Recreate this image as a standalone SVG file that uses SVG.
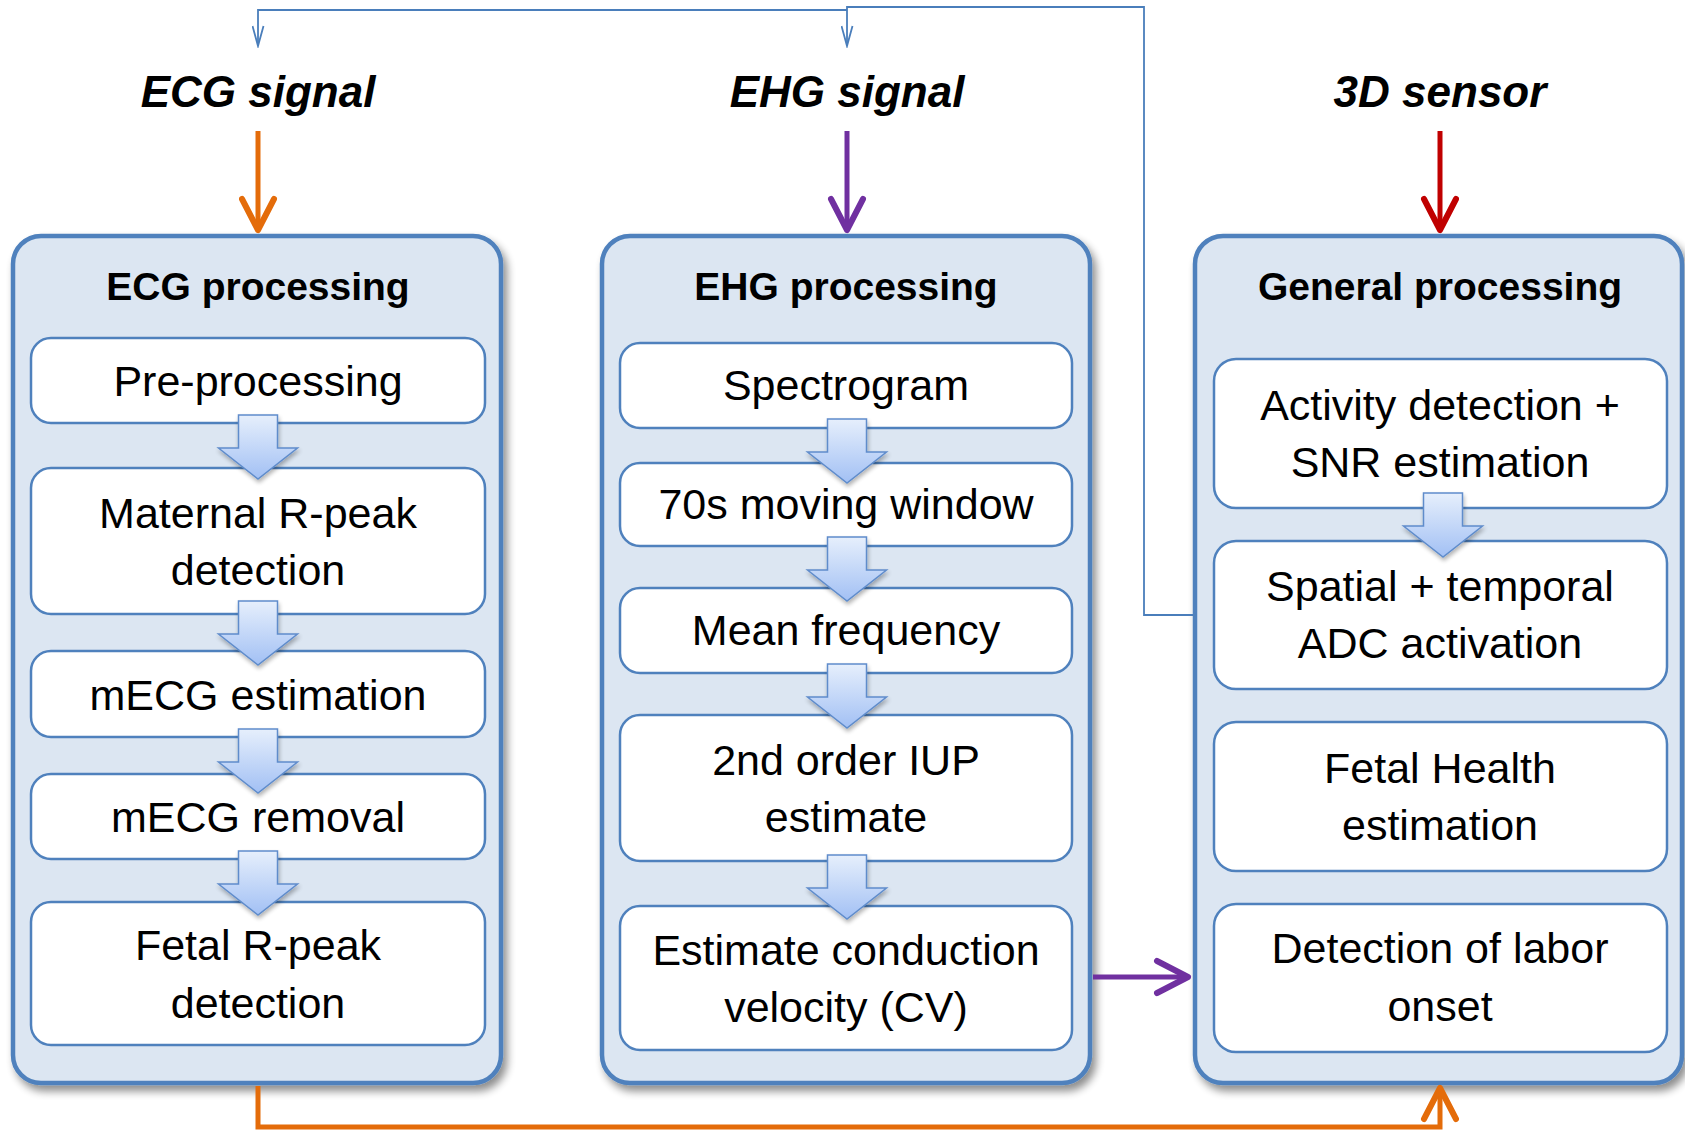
<svg xmlns="http://www.w3.org/2000/svg" width="1685" height="1133" viewBox="0 0 1685 1133">
<style>
.outer{fill:#DCE6F2;stroke:#4F81BD;stroke-width:4.5}
.inner{fill:#FFFFFF;stroke:#4F81BD;stroke-width:2.5}
.title{font-family:"Liberation Sans",Arial,sans-serif;font-weight:bold;font-size:39px;text-anchor:middle;fill:#000}
.sig{font-family:"Liberation Sans",Arial,sans-serif;font-weight:bold;font-style:italic;font-size:44px;text-anchor:middle;fill:#000}
.lbl{font-family:"Liberation Sans",Arial,sans-serif;font-size:43px;text-anchor:middle;fill:#000}
.blk{fill:url(#bg);stroke:#5F8CCB;stroke-width:1.5}
.fb{fill:none;stroke:#4A7EBB;stroke-width:1.8}
</style>
<defs>
<linearGradient id="bg" x1="0" y1="0" x2="0" y2="1">
<stop offset="0" stop-color="#E6EFFC"/>
<stop offset="1" stop-color="#A2C0F4"/>
</linearGradient>
<filter id="sh" x="-5%" y="-5%" width="115%" height="115%">
<feGaussianBlur in="SourceAlpha" stdDeviation="4"/>
<feOffset dx="4" dy="6"/>
<feComponentTransfer><feFuncA type="linear" slope="0.45"/></feComponentTransfer>
<feMerge><feMergeNode/><feMergeNode in="SourceGraphic"/></feMerge>
</filter>
<filter id="sh2" x="-20%" y="-20%" width="150%" height="150%">
<feGaussianBlur in="SourceAlpha" stdDeviation="2"/>
<feOffset dx="1" dy="3"/>
<feComponentTransfer><feFuncA type="linear" slope="0.3"/></feComponentTransfer>
<feMerge><feMergeNode/><feMergeNode in="SourceGraphic"/></feMerge>
</filter>
<path id="blkarrow" class="blk" d="M-19.5,0 H19.5 V33 H39.5 L0,64 L-39.5,33 H-19.5 Z"/>
<marker id="mOr" viewBox="0 0 40 40" refX="37" refY="20" markerWidth="40" markerHeight="40" markerUnits="userSpaceOnUse" orient="auto">
<path d="M5,4 L36,20 L5,36" fill="none" stroke="#E46C0A" stroke-width="6" stroke-linecap="round" stroke-linejoin="round"/>
</marker>
<marker id="mPu" viewBox="0 0 40 40" refX="37" refY="20" markerWidth="40" markerHeight="40" markerUnits="userSpaceOnUse" orient="auto">
<path d="M5,4 L36,20 L5,36" fill="none" stroke="#7030A0" stroke-width="6" stroke-linecap="round" stroke-linejoin="round"/>
</marker>
<marker id="mRe" viewBox="0 0 40 40" refX="37" refY="20" markerWidth="40" markerHeight="40" markerUnits="userSpaceOnUse" orient="auto">
<path d="M5,4 L36,20 L5,36" fill="none" stroke="#C00000" stroke-width="6" stroke-linecap="round" stroke-linejoin="round"/>
</marker>
<marker id="mBl" viewBox="-1 -1 23 13" refX="20" refY="5.5" markerWidth="23" markerHeight="13" markerUnits="userSpaceOnUse" orient="auto">
<path d="M0,0 L20,5.5 L0,11" fill="none" stroke="#4A7EBB" stroke-width="1.8"/>
</marker>
</defs>
<rect width="1685" height="1133" fill="#FFFFFF"/>

<g id="signal-labels">
<text class="sig" x="258" y="107">ECG signal</text>
<text class="sig" x="847" y="107">EHG signal</text>
<text class="sig" x="1440" y="107">3D sensor</text>
</g>

<g id="ecg-processing">
<rect class="outer" x="13" y="236" width="488" height="847" rx="28" filter="url(#sh)"/>
<text class="title" x="258" y="300">ECG processing</text>
</g>
<g id="ehg-processing">
<rect class="outer" x="602" y="236" width="488" height="847" rx="28" filter="url(#sh)"/>
<text class="title" x="846" y="300">EHG processing</text>
</g>
<g id="general-processing">
<rect class="outer" x="1195" y="236" width="487" height="847" rx="28" filter="url(#sh)"/>
<text class="title" x="1440" y="300">General processing</text>
</g>

<g id="pre-processing"><rect class="inner" x="31" y="338" width="454" height="85" rx="20"/><text class="lbl" x="258" y="396">Pre-processing</text></g>
<g id="maternal-rpeak"><rect class="inner" x="31" y="468" width="454" height="146" rx="20"/><text class="lbl" x="258" y="528">Maternal R-peak</text><text class="lbl" x="258" y="585">detection</text></g>
<g id="mecg-estimation"><rect class="inner" x="31" y="651" width="454" height="86" rx="20"/><text class="lbl" x="258" y="710">mECG estimation</text></g>
<g id="mecg-removal"><rect class="inner" x="31" y="774" width="454" height="85" rx="20"/><text class="lbl" x="258" y="832">mECG removal</text></g>
<g id="fetal-rpeak"><rect class="inner" x="31" y="902" width="454" height="143" rx="20"/><text class="lbl" x="258" y="960">Fetal R-peak</text><text class="lbl" x="258" y="1018">detection</text></g>

<g id="spectrogram"><rect class="inner" x="620" y="343" width="452" height="85" rx="20"/><text class="lbl" x="846" y="400">Spectrogram</text></g>
<g id="moving-window"><rect class="inner" x="620" y="463" width="452" height="83" rx="20"/><text class="lbl" x="846" y="519">70s moving window</text></g>
<g id="mean-frequency"><rect class="inner" x="620" y="588" width="452" height="85" rx="20"/><text class="lbl" x="846" y="645">Mean frequency</text></g>
<g id="iup-estimate"><rect class="inner" x="620" y="715" width="452" height="146" rx="20"/><text class="lbl" x="846" y="775">2nd order IUP</text><text class="lbl" x="846" y="832">estimate</text></g>
<g id="conduction-velocity"><rect class="inner" x="620" y="906" width="452" height="144" rx="20"/><text class="lbl" x="846" y="965">Estimate conduction</text><text class="lbl" x="846" y="1022">velocity (CV)</text></g>

<g id="activity-detection"><rect class="inner" x="1214" y="359" width="453" height="149" rx="22"/><text class="lbl" x="1440" y="420">Activity detection +</text><text class="lbl" x="1440" y="477">SNR estimation</text></g>
<g id="adc-activation"><rect class="inner" x="1214" y="541" width="453" height="148" rx="22"/><text class="lbl" x="1440" y="601">Spatial + temporal</text><text class="lbl" x="1440" y="658">ADC activation</text></g>
<g id="fetal-health"><rect class="inner" x="1214" y="722" width="453" height="149" rx="22"/><text class="lbl" x="1440" y="783">Fetal Health</text><text class="lbl" x="1440" y="840">estimation</text></g>
<g id="labor-onset"><rect class="inner" x="1214" y="904" width="453" height="148" rx="22"/><text class="lbl" x="1440" y="963">Detection of labor</text><text class="lbl" x="1440" y="1021">onset</text></g>

<g id="connectors">
<g filter="url(#sh2)">
<use href="#blkarrow" transform="translate(258,415)"/>
<use href="#blkarrow" transform="translate(258,601)"/>
<use href="#blkarrow" transform="translate(258,729)"/>
<use href="#blkarrow" transform="translate(258,851)"/>
<use href="#blkarrow" transform="translate(847,419)"/>
<use href="#blkarrow" transform="translate(847,537)"/>
<use href="#blkarrow" transform="translate(847,664)"/>
<use href="#blkarrow" transform="translate(847,855)"/>
<use href="#blkarrow" transform="translate(1443,493)"/>
</g>
<line x1="258" y1="131" x2="258" y2="231" stroke="#E46C0A" stroke-width="5" marker-end="url(#mOr)"/>
<line x1="847" y1="131" x2="847" y2="231" stroke="#7030A0" stroke-width="5" marker-end="url(#mPu)"/>
<line x1="1440" y1="131" x2="1440" y2="231" stroke="#C00000" stroke-width="5" marker-end="url(#mRe)"/>
<path d="M258,1086 V1127 H1440 V1087" fill="none" stroke="#E46C0A" stroke-width="5" marker-end="url(#mOr)"/>
<line x1="1093" y1="977" x2="1189" y2="977" stroke="#7030A0" stroke-width="5" marker-end="url(#mPu)"/>
<path class="fb" d="M1193,615 H1144 V7 H847 V46" marker-end="url(#mBl)"/>
<path class="fb" d="M847,10 H258 V46" marker-end="url(#mBl)"/>
</g>
</svg>
